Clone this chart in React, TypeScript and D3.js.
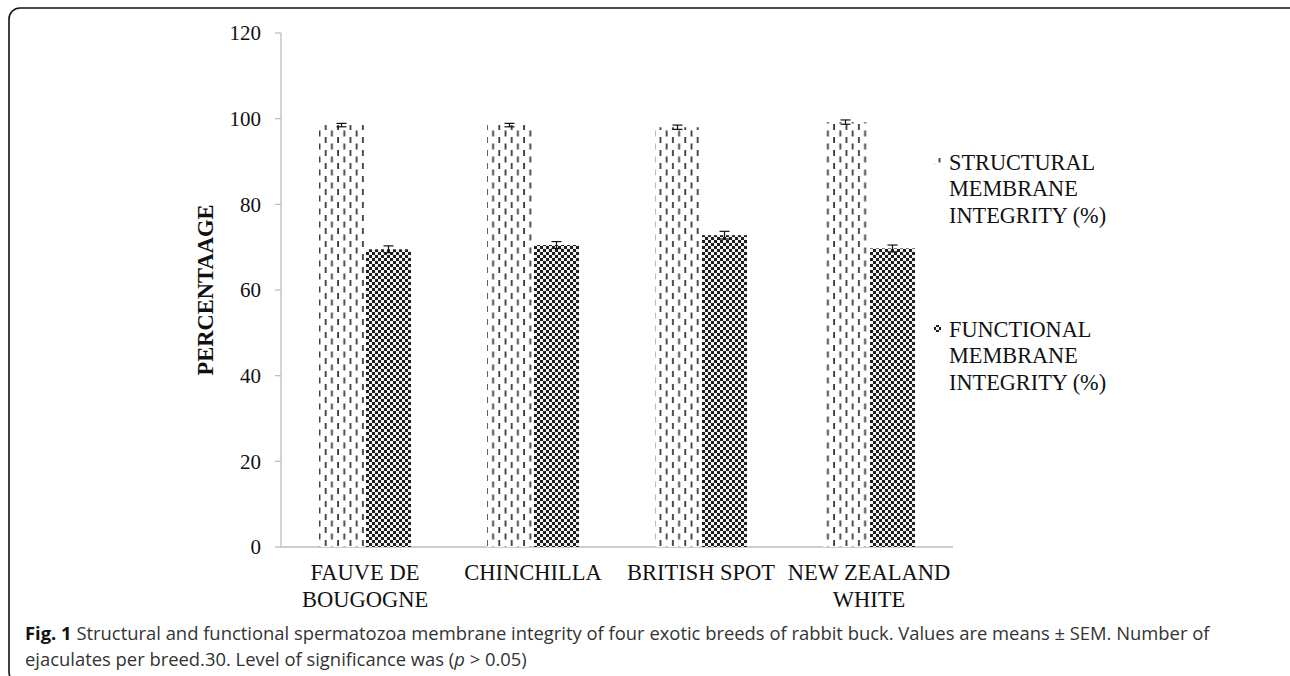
import React from "react";
import * as d3 from "d3";

const categories = [["FAUVE DE", "BOUGOGNE"], ["CHINCHILLA"], ["BRITISH SPOT"], ["NEW ZEALAND", "WHITE"]];
const structural = [98.5, 98.5, 98.0, 99.2];
const structuralErr = [0.4, 0.4, 0.5, 0.5];
const functional = [69.5, 70.5, 72.8, 69.7];
const functionalErr = [0.8, 0.8, 0.9, 0.8];
const yTicks = [0, 20, 40, 60, 80, 100, 120];
const legendLabels = [
  ["STRUCTURAL", "MEMBRANE", "INTEGRITY (%)"],
  ["FUNCTIONAL", "MEMBRANE", "INTEGRITY (%)"],
];

export default function App() {
  const W = 1290, H = 676;
  const x0 = d3.scaleBand<number>().domain(d3.range(categories.length)).range([281, 953]).paddingInner(0).paddingOuter(0);
  const y = d3.scaleLinear().domain([0, 120]).range([547, 33]);
  const barW = 45;
  const gap = 2;
  const serif = "'Liberation Serif', 'Times New Roman', serif";
  const sans = "'Open Sans', 'Noto Sans', sans-serif";

  return (
    <svg width={W} height={H} style={{ position: "absolute", left: 0, top: 0, background: "#fff" }}>
      <defs>
        <pattern id="dash" width="12.4" height="13" patternUnits="userSpaceOnUse" x="318">
          <rect width="12.4" height="13" fill="#fff" />
          <rect x="0.6" y="0.5" width="1.8" height="6" fill="#3a3a3a" />
          <rect x="6.8" y="7" width="1.8" height="6" fill="#3a3a3a" />
        </pattern>
        <pattern id="check" width="6" height="6" patternUnits="userSpaceOnUse">
          <rect width="6" height="6" fill="#f2f2f2" />
          <rect x="0" y="0" width="3" height="3" fill="#1e1e1e" />
          <rect x="3" y="3" width="3" height="3" fill="#1e1e1e" />
        </pattern>
      </defs>
      <rect x={9} y={8} width={1300} height={675} rx={11} fill="none" stroke="#111" strokeWidth={1.6} />

      {/* axes */}
      <line x1={281} x2={281} y1={y(120)} y2={y(0)} stroke="#bdbdbd" strokeWidth={1.3} />
      <line x1={281} x2={953} y1={y(0)} y2={y(0)} stroke="#bdbdbd" strokeWidth={1.3} />
      {yTicks.map((t) => (
        <g key={t}>
          <line x1={275} x2={281} y1={y(t)} y2={y(t)} stroke="#bdbdbd" strokeWidth={1.3} />
          <text x={261} y={y(t)} dy="0.35em" textAnchor="end" fontFamily={serif} fontSize={21} fill="#111">{t}</text>
        </g>
      ))}
      <text transform={`translate(213,${y(60)}) rotate(-90)`} textAnchor="middle" fontFamily={serif} fontWeight="bold" fontSize={22.5} fill="#111">PERCENTAAGE</text>

      {/* bars */}
      {categories.map((c, i) => {
        const cx = (x0(i) as number) + x0.bandwidth() / 2;
        const sx = cx - gap / 2 - barW;
        const fx = cx + gap / 2;
        return (
          <g key={i}>
            <rect x={sx} y={y(structural[i])} width={barW} height={y(0) - y(structural[i])} fill="url(#dash)" />
            <rect x={fx} y={y(functional[i])} width={barW} height={y(0) - y(functional[i])} fill="url(#check)" />
            {[
              [sx + barW / 2, structural[i], structuralErr[i]],
              [fx + barW / 2, functional[i], functionalErr[i]],
            ].map(([ex, v, e], k) => (
              <g key={k} stroke="#111" strokeWidth={1.2}>
                <line x1={ex} x2={ex} y1={y(v + e)} y2={y(v - e)} />
                <line x1={ex - 5} x2={ex + 5} y1={y(v + e)} y2={y(v + e)} />
                <line x1={ex - 5} x2={ex + 5} y1={y(v - e)} y2={y(v - e)} />
              </g>
            ))}
            {c.map((line, li) => (
              <text key={li} x={cx} y={580 + li * 27} textAnchor="middle" fontFamily={serif} fontSize={22.5} fill="#111">{line}</text>
            ))}
          </g>
        );
      })}

      {/* legend */}
      {legendLabels.map((lines, li) => {
        const ly = li === 0 ? 162 : 329;
        return (
          <g key={li}>
            <rect x={934} y={ly - 4} width={7} height={7} fill={li === 0 ? "url(#dash)" : "url(#check)"} />
            {lines.map((t, k) => (
              <text key={k} x={949} y={ly + k * 26.5} dy="0.35em" fontFamily={serif} fontSize={22.3} fill="#111">{t}</text>
            ))}
          </g>
        );
      })}

      {/* caption */}
      <text x={25} y={640} fontFamily={sans} fontSize={18.4} fill="#333">
        <tspan fontWeight="bold" fill="#111">Fig. 1</tspan>
        <tspan> Structural and functional spermatozoa membrane integrity of four exotic breeds of rabbit buck. Values are means ± SEM. Number of</tspan>
      </text>
      <text x={25} y={666} fontFamily={sans} fontSize={18.4} fill="#333">
        ejaculates per breed.30. Level of significance was (<tspan fontStyle="italic">p</tspan> &gt; 0.05)
      </text>
    </svg>
  );
}
